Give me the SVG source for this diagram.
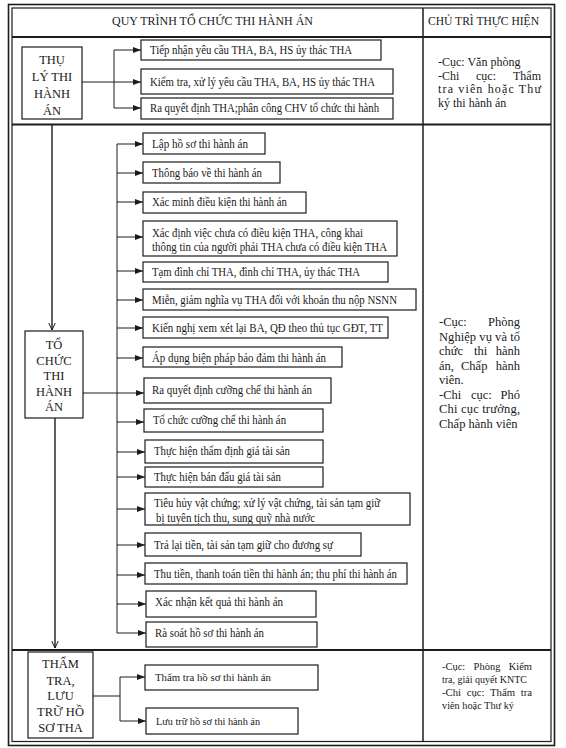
<svg xmlns="http://www.w3.org/2000/svg" width="566" height="748" viewBox="0 0 566 748">
<style>
.frame{fill:none;stroke:#1c1c1c}
.sec{stroke:#1c1c1c;stroke-width:2}
.b{fill:#fff;stroke:#1c1c1c;stroke-width:1.2}
.t{font-family:"Liberation Serif","Times New Roman",serif;font-size:12px;fill:#1a1a1a}
.s{font-size:11px}
.lb{font-family:"Liberation Serif","Times New Roman",serif;font-size:12.5px;fill:#1a1a1a;text-anchor:middle}
.hd{font-family:"Liberation Serif","Times New Roman",serif;font-size:11.5px;fill:#1a1a1a}
.r{font-family:"Liberation Serif","Times New Roman",serif;font-size:12px;fill:#1a1a1a}
.r2{font-size:12.5px}
.r3{font-size:11px}
.e{text-anchor:end}
.c{stroke:#1c1c1c;stroke-width:1;fill:none}
.ca{stroke:#1c1c1c;stroke-width:1;fill:none;marker-end:url(#ah)}
.cv{stroke:#1c1c1c;stroke-width:1.4;fill:none;marker-end:url(#av)}
</style>
<defs>
<marker id="ah" viewBox="0 0 8 6" refX="8" refY="3" markerWidth="8" markerHeight="6" markerUnits="userSpaceOnUse" orient="auto"><path d="M0,0 L8,3 L0,6 z" fill="#1c1c1c"/></marker>
<marker id="av" viewBox="0 0 8 8" refX="7.5" refY="4" markerWidth="8" markerHeight="8" markerUnits="userSpaceOnUse" orient="auto"><path d="M0,0.5 L7.5,4 L0,7.5" fill="none" stroke="#1c1c1c" stroke-width="1"/></marker>
<clipPath id="clip13"><rect x="145" y="493" width="265" height="31"/></clipPath>
</defs>
<rect x="0" y="0" width="566" height="748" fill="#fff"/>

<g id="table">
<rect class="frame" x="8.5" y="4.5" width="546" height="741" stroke-width="1.6"/>
<rect class="frame" x="12" y="8" width="539" height="733.5" stroke-width="1.2"/>
<line class="sec" x1="12" y1="37" x2="551" y2="37"/>
<line class="sec" x1="12" y1="124.5" x2="551" y2="124.5"/>
<line class="sec" x1="12" y1="650" x2="551" y2="650"/>
<line class="frame" x1="423" y1="8" x2="423" y2="741.5" stroke-width="1.5"/>
<text class="hd" x="112" y="25" textLength="201" lengthAdjust="spacingAndGlyphs">QUY TRÌNH TỔ CHỨC THI HÀNH ÁN</text>
<text class="hd" x="428" y="25" textLength="111" lengthAdjust="spacingAndGlyphs">CHỦ TRÌ THỰC HIỆN</text>
</g>

<g id="connectors">
<path class="c" d="M114,50 V108"/>
<path class="ca" d="M114,50 H141"/>
<path class="ca" d="M82,82 H141"/>
<path class="ca" d="M114,108 H141"/>

<path class="cv" d="M52,125 V330"/>
<path class="cv" d="M55,418 V648"/>
<path class="c" d="M117,144 V633"/>
<path class="ca" d="M117,144 H143"/>
<path class="ca" d="M117,173 H143"/>
<path class="ca" d="M117,202 H143"/>
<path class="ca" d="M117,237 H143"/>
<path class="ca" d="M117,271 H143"/>
<path class="ca" d="M117,300 H143"/>
<path class="ca" d="M117,328 H143"/>
<path class="ca" d="M117,358 H143"/>
<path class="ca" d="M83,393 H144"/>
<path class="ca" d="M117,422 H144"/>
<path class="ca" d="M117,452 H145"/>
<path class="ca" d="M117,477 H145"/>
<path class="ca" d="M117,509 H145"/>
<path class="ca" d="M117,545 H145"/>
<path class="ca" d="M117,575 H145"/>
<path class="ca" d="M117,604 H146"/>
<path class="ca" d="M117,633 H146"/>

<path class="c" d="M93,696 H120 M120,677 V721"/>
<path class="ca" d="M120,677 H145"/>
<path class="ca" d="M120,721 H146"/>
</g>

<g id="thu-ly">
<rect class="b" x="22" y="47" width="60" height="72"/>
<text class="lb" x="52" y="63.5">THỤ</text>
<text class="lb" x="52" y="80.5">LÝ THI</text>
<text class="lb" x="52" y="97.5">HÀNH</text>
<text class="lb" x="52" y="114.5">ÁN</text>
</g>
<g id="s1-b1"><rect class="b" x="141" y="40" width="240" height="20"/><text class="t" x="150" y="54" textLength="202" lengthAdjust="spacingAndGlyphs">Tiếp nhận yêu cầu THA, BA, HS ủy thác THA</text></g>
<g id="s1-b2"><rect class="b" x="141" y="69" width="252" height="25"/><text class="t" x="150" y="86" textLength="225" lengthAdjust="spacingAndGlyphs">Kiểm tra, xử lý yêu cầu THA, BA, HS ủy thác THA</text></g>
<g id="s1-b3"><rect class="b" x="141" y="98" width="252" height="21"/><text class="t" x="150" y="112" textLength="229" lengthAdjust="spacingAndGlyphs">Ra quyết định THA;phân công CHV tổ chức thi hành</text></g>
<g id="s1-resp">
<text class="r" x="438" y="66">-Cục: Văn phòng</text>
<text class="r" x="438" y="79.5">-Chi</text><text class="r" x="476" y="79.5">cục:</text><text class="r e" x="541" y="79.5">Thẩm</text>
<text class="r" x="438" y="93" textLength="103" lengthAdjust="spacing">tra viên hoặc Thư</text>
<text class="r" x="438" y="106.5">ký thi hành án</text>
</g>

<g id="to-chuc">
<rect class="b" x="25" y="331" width="58" height="87"/>
<text class="lb" x="54" y="349">TỔ</text>
<text class="lb" x="54" y="364.5">CHỨC</text>
<text class="lb" x="54" y="380">THI</text>
<text class="lb" x="54" y="395.5">HÀNH</text>
<text class="lb" x="54" y="411">ÁN</text>
</g>
<g id="s2-b1"><rect class="b" x="143" y="133" width="122" height="21"/><text class="t" x="152" y="148" textLength="96" lengthAdjust="spacingAndGlyphs">Lập hồ sơ thi hành án</text></g>
<g id="s2-b2"><rect class="b" x="143" y="162" width="137" height="21"/><text class="t" x="152" y="177" textLength="110" lengthAdjust="spacingAndGlyphs">Thông báo về thi hành án</text></g>
<g id="s2-b3"><rect class="b" x="143" y="192" width="163" height="21"/><text class="t" x="152" y="206" textLength="135" lengthAdjust="spacingAndGlyphs">Xác minh điều kiện thi hành án</text></g>
<g id="s2-b4"><rect class="b" x="143" y="221" width="254" height="35"/><text class="t" x="152" y="237" textLength="211" lengthAdjust="spacingAndGlyphs">Xác định việc chưa có điều kiện THA, công khai</text><text class="t" x="152" y="251" textLength="235" lengthAdjust="spacingAndGlyphs">thông tin của người phải THA chưa có điều kiện THA</text></g>
<g id="s2-b5"><rect class="b" x="143" y="262" width="245" height="20"/><text class="t" x="152" y="275.5" textLength="208" lengthAdjust="spacingAndGlyphs">Tạm đình chỉ THA, đình chỉ THA, ủy thác THA</text></g>
<g id="s2-b6"><rect class="b" x="143" y="289" width="273" height="21"/><text class="t" x="152" y="304" textLength="245" lengthAdjust="spacingAndGlyphs">Miễn, giảm nghĩa vụ THA đối với khoản thu nộp NSNN</text></g>
<g id="s2-b7"><rect class="b" x="143" y="317" width="245" height="21"/><text class="t" x="152" y="332" textLength="231" lengthAdjust="spacingAndGlyphs">Kiến nghị xem xét lại BA, QĐ theo thủ tục GĐT, TT</text></g>
<g id="s2-b8"><rect class="b" x="143" y="347" width="199" height="20"/><text class="t" x="152" y="361.5" textLength="174" lengthAdjust="spacingAndGlyphs">Áp dụng biện pháp bảo đảm thi hành án</text></g>
<g id="s2-b9"><rect class="b" x="144" y="378" width="187" height="25"/><text class="t" x="152" y="394" textLength="160" lengthAdjust="spacingAndGlyphs">Ra quyết định cưỡng chế thi hành án</text></g>
<g id="s2-b10"><rect class="b" x="144" y="409" width="179" height="23"/><text class="t" x="153" y="424" textLength="133" lengthAdjust="spacingAndGlyphs">Tổ chức cưỡng chế thi hành án</text></g>
<g id="s2-b11"><rect class="b" x="145" y="440" width="178" height="23"/><text class="t" x="154" y="455" textLength="136" lengthAdjust="spacingAndGlyphs">Thực hiện thẩm định giá tài sản</text></g>
<g id="s2-b12"><rect class="b" x="145" y="467" width="178" height="20"/><text class="t" x="154" y="481" textLength="127" lengthAdjust="spacingAndGlyphs">Thực hiện bán đấu giá tài sản</text></g>
<g id="s2-b13"><rect class="b" x="145" y="493" width="265" height="32"/><text class="t" x="154" y="507" textLength="226" lengthAdjust="spacingAndGlyphs">Tiêu hủy vật chứng; xử lý vật chứng, tài sản tạm giữ</text><text class="t" x="156" y="522" textLength="159" lengthAdjust="spacingAndGlyphs" clip-path="url(#clip13)">bị tuyên tịch thu, sung quỹ nhà nước</text></g>
<g id="s2-b14"><rect class="b" x="145" y="533" width="216" height="23"/><text class="t" x="154" y="549" textLength="179" lengthAdjust="spacingAndGlyphs">Trả lại tiền, tài sản tạm giữ cho đương sự</text></g>
<g id="s2-b15"><rect class="b" x="145" y="563" width="262" height="21"/><text class="t" x="154" y="578" textLength="243" lengthAdjust="spacingAndGlyphs">Thu tiền, thanh toán tiền thi hành án; thu phí thi hành án</text></g>
<g id="s2-b16"><rect class="b" x="146" y="591" width="170" height="26"/><text class="t" x="155" y="606" textLength="128" lengthAdjust="spacingAndGlyphs">Xác nhận kết quả thi hành án</text></g>
<g id="s2-b17"><rect class="b" x="146" y="622" width="171" height="25"/><text class="t" x="155" y="637" textLength="109" lengthAdjust="spacingAndGlyphs">Rà soát hồ sơ thi hành án</text></g>
<g id="s2-resp">
<text class="r r2" x="439" y="326">-Cục:</text><text class="r r2 e" x="520" y="326">Phòng</text>
<text class="r r2" x="439" y="340.5" textLength="81" lengthAdjust="spacing">Nghiệp vụ và tổ</text>
<text class="r r2" x="439" y="355">chức</text><text class="r r2" x="474" y="355">thi</text><text class="r r2 e" x="520" y="355">hành</text>
<text class="r r2" x="439" y="369.5">án,</text><text class="r r2" x="461" y="369.5">Chấp</text><text class="r r2 e" x="520" y="369.5">hành</text>
<text class="r r2" x="439" y="384">viên.</text>
<text class="r r2" x="439" y="398.5">-Chi</text><text class="r r2" x="471" y="398.5">cục:</text><text class="r r2 e" x="520" y="398.5">Phó</text>
<text class="r r2" x="439" y="413" textLength="81" lengthAdjust="spacing">Chi cục trưởng,</text>
<text class="r r2" x="439" y="427.5">Chấp hành viên</text>
</g>

<g id="tham-tra">
<rect class="b" x="28" y="652" width="65" height="86"/>
<text class="lb" x="60.5" y="668">THẨM</text>
<text class="lb" x="60.5" y="684.5">TRA,</text>
<text class="lb" x="60.5" y="700">LƯU</text>
<text class="lb" x="60.5" y="716">TRỮ HỒ</text>
<text class="lb" x="60.5" y="732">SƠ THA</text>
</g>
<g id="s3-b1"><rect class="b" x="145" y="665" width="173" height="25"/><text class="t s" x="155" y="681" textLength="116" lengthAdjust="spacingAndGlyphs">Thẩm tra hồ sơ thi hành án</text></g>
<g id="s3-b2"><rect class="b" x="146" y="708" width="152" height="26"/><text class="t s" x="156" y="725" textLength="104" lengthAdjust="spacingAndGlyphs">Lưu trữ hồ sơ thi hành án</text></g>
<g id="s3-resp">
<text class="r r3" x="442" y="670" textLength="90" lengthAdjust="spacingAndGlyphs" word-spacing="6">-Cục: Phòng Kiểm</text>
<text class="r r3" x="442" y="683" textLength="85" lengthAdjust="spacingAndGlyphs">tra, giải quyết KNTC</text>
<text class="r r3" x="442" y="696" textLength="90" lengthAdjust="spacingAndGlyphs" word-spacing="3">-Chi cục: Thẩm tra</text>
<text class="r r3" x="442" y="709" textLength="72" lengthAdjust="spacingAndGlyphs">viên hoặc Thư ký</text>
</g>
</svg>
